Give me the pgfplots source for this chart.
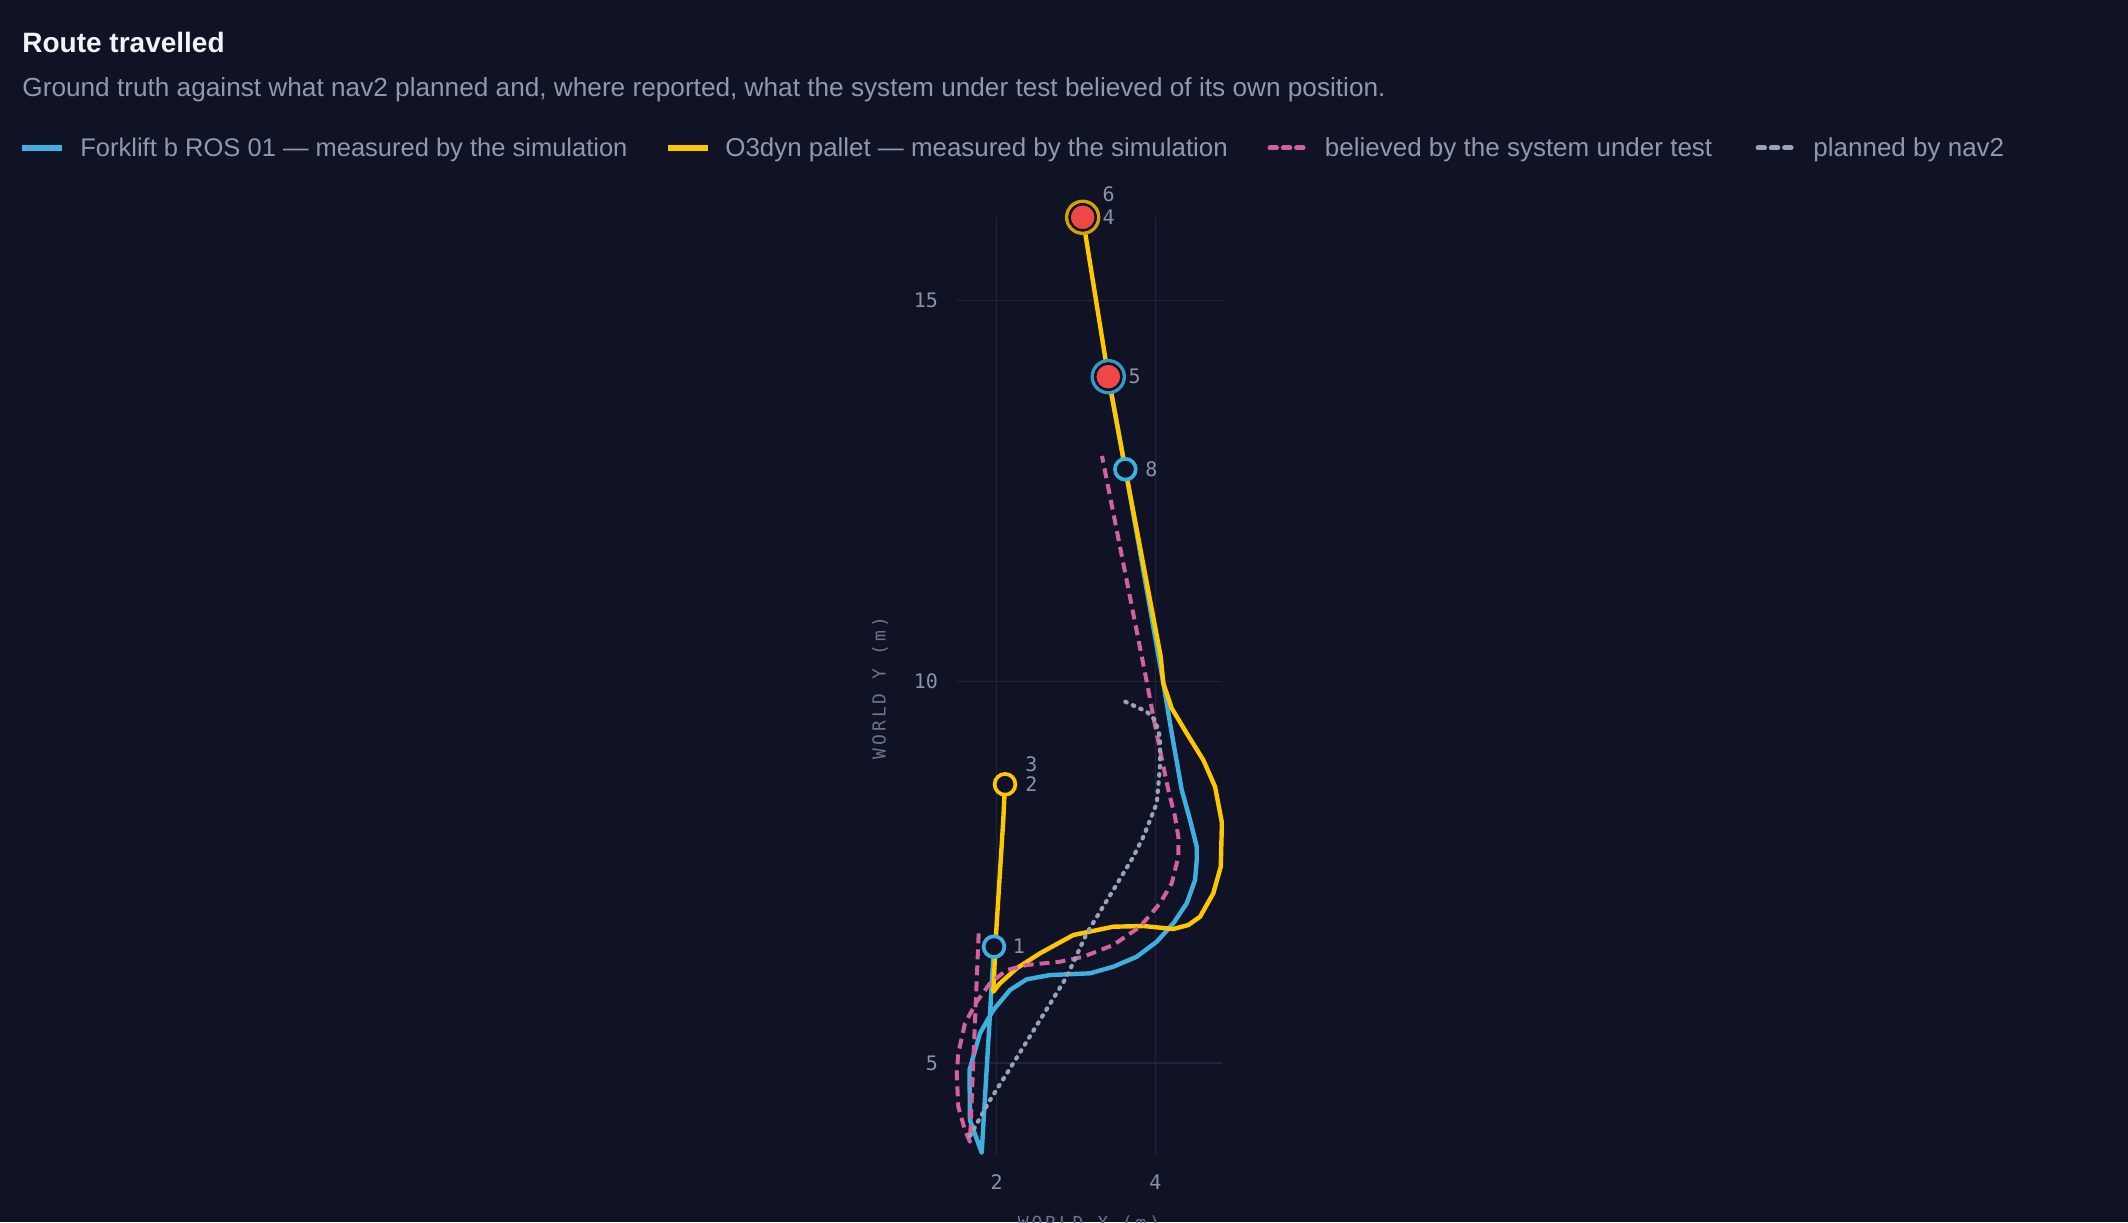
\documentclass[border=0pt]{standalone}
\usepackage{pgfplots}
\pgfplotsset{compat=1.18}
\usepackage{fontspec}
\setmainfont{Liberation Sans}
\newfontfamily\monofont{DejaVu Sans Mono}
\newfontfamily\labelfont[LetterSpace=16]{DejaVu Sans Mono}
\definecolor{bg}{RGB}{15,19,37}
\definecolor{gridc}{RGB}{31,36,56}
\definecolor{tickc}{RGB}{138,146,166}
\definecolor{labelc}{RGB}{107,115,136}
\definecolor{titlec}{RGB}{241,243,247}
\definecolor{subc}{RGB}{144,152,172}
\definecolor{fork}{RGB}{62,176,223}
\definecolor{yel}{RGB}{255,199,0}
\definecolor{pinkc}{RGB}{211,97,159}
\definecolor{grayl}{RGB}{154,163,182}
\definecolor{redc}{RGB}{239,70,70}

\begin{document}
\begin{tikzpicture}[x=0.5pt,y=0.5pt]
\useasboundingbox (0,0) rectangle (2128,1222);
\fill[bg] (0,0) rectangle (2128,1222);
\coordinate (axsw) at (956.7,64.7);

% title, subtitle
\node[anchor=base west,inner sep=0,text=titlec] at (22,1169) {\fontsize{14}{16}\selectfont\bfseries Route travelled};
\node[anchor=base west,inner sep=0,text=subc] at (22,1125.3) {\fontsize{13.1}{15}\selectfont Ground truth against what nav2 planned and, where reported, what the system under test believed of its own position.};

% legend
\draw[fork,line width=2.6pt] (22,1074) -- (62,1074);
\node[anchor=base west,inner sep=0,text=subc] at (80,1065.3) {\fontsize{12.75}{15}\selectfont Forklift b ROS 01 — measured by the simulation};
\draw[yel,line width=2.6pt] (668,1074) -- (708,1074);
\node[anchor=base west,inner sep=0,text=subc] at (725,1065.3) {\fontsize{12.95}{15}\selectfont O3dyn pallet — measured by the simulation};
\foreach \s in {0,13.3,26.6}{\draw[pinkc,line width=2.5pt,line cap=round] (1270+\s,1074) -- (1276.5+\s,1074);}
\node[anchor=base west,inner sep=0,text=subc] at (1324.5,1065.3) {\fontsize{13}{15}\selectfont believed by the system under test};
\foreach \s in {0,13.3,26.6}{\draw[grayl,line width=2.5pt,line cap=round] (1758+\s,1074) -- (1764.5+\s,1074);}
\node[anchor=base west,inner sep=0,text=subc] at (1813,1065.3) {\fontsize{13}{15}\selectfont planned by nav2};

% axis labels
\node[rotate=90,anchor=center,inner sep=0,text=labelc] at (880,534) {\labelfont\fontsize{9}{10}\selectfont WORLD Y (m)};
\node[anchor=north,inner sep=0,text=labelc] at (1089,6.5) {\labelfont\fontsize{9}{10}\selectfont WORLD X (m)};

\begin{axis}[
  at={(axsw)}, anchor=south west,
  scale only axis, width=132.5pt, height=470pt,
  xmin=1.496, xmax=4.837, ymin=3.763, ymax=16.09,
  axis line style={draw=none}, tick style={draw=none},
  xtick={2,4}, ytick={5,10,15},
  xticklabels={2,4}, yticklabels={5,10,15},
  grid=major, grid style={draw=gridc,line width=0.8pt},
  tick label style={font=\monofont\fontsize{10}{11}\selectfont, text=tickc, inner sep=0pt},
  xticklabel style={anchor=north, yshift=-8.5pt},
  yticklabel style={anchor=east, xshift=-9.2pt},
  clip=false,
]
% Forklift (measured)
\addplot[fork, line width=2.2pt, line join=round] coordinates {
(1.966,6.525) (1.811,3.823) (1.663,4.250) (1.657,4.907) (1.789,5.389) (1.957,5.694)
(2.168,5.957) (2.378,6.097) (2.672,6.153) (3.177,6.176) (3.470,6.262) (3.765,6.393)
(4.018,6.590) (4.227,6.831) (4.396,7.094) (4.501,7.399) (4.522,7.662) (4.522,7.836)
(4.438,8.186) (4.333,8.580) (4.207,9.323) (4.101,9.979) (3.622,12.786) (3.407,14.0)
};
% Pallet (measured)
\addplot[yel, line width=2.2pt, line join=round] coordinates {
(2.105,8.654) (2.083,8.186) (1.991,6.678) (1.957,5.934) (2.042,6.045) (2.252,6.241)
(2.546,6.438) (2.966,6.678) (3.470,6.787) (3.849,6.796) (4.227,6.757) (4.416,6.809)
(4.564,6.918) (4.731,7.225) (4.825,7.574) (4.837,8.055) (4.837,8.164) (4.753,8.623)
(4.605,8.973) (4.396,9.323) (4.207,9.651) (4.101,9.979) (4.068,10.328) (3.622,12.786)
(3.407,14.0) (3.084,16.09)
};
% believed
\addplot[pinkc, line width=2pt, line join=round, dash pattern=on 5pt off 3pt] coordinates {
(1.773,6.700) (1.663,3.967) (1.600,4.121) (1.516,4.426) (1.496,4.864) (1.516,5.127)
(1.600,5.520) (1.748,5.803) (1.916,6.045) (2.126,6.219) (2.378,6.285) (2.798,6.328)
(3.092,6.393) (3.470,6.547) (3.807,6.787) (4.059,7.094) (4.207,7.356) (4.290,7.705)
(4.290,7.967) (4.248,8.230) (4.164,8.580) (4.059,9.104) (3.975,9.541) (3.892,10.0)
(3.328,12.960)
};
% planned
\addplot[grayl, line width=2.1pt, line join=round, line cap=round, dash pattern=on 0.8pt off 3.3pt] coordinates {
(1.663,4.042) (1.916,4.514) (2.209,4.996) (2.546,5.563) (2.883,6.131) (3.135,6.700)
(3.470,7.268) (3.723,7.705) (3.849,7.967) (4.018,8.405) (4.059,8.885) (4.059,9.279)
(3.996,9.498) (3.892,9.607) (3.555,9.769)
};
% event markers: rings with red fill
\addplot[only marks, mark=*, mark size=8pt, mark options={draw=yel!80!bg, fill=none, line width=1.7pt}] coordinates {(3.084,16.09)};
\addplot[only marks, mark=*, mark size=8pt, mark options={draw=fork!85!bg, fill=none, line width=1.7pt}] coordinates {(3.407,14.0)};
\addplot[only marks, mark=*, mark size=6.5pt, mark options={draw=bg, fill=redc, line width=1.1pt}] coordinates {(3.084,16.09) (3.407,14.0)};
% open markers
\addplot[only marks, mark=*, mark size=5.2pt, mark options={draw=fork, fill=bg, line width=1.85pt}] coordinates {(1.966,6.525) (3.622,12.786)};
\addplot[only marks, mark=*, mark size=5.2pt, mark options={draw=yel, fill=bg, line width=1.85pt}] coordinates {(2.105,8.654)};
% marker labels
\begin{scope}[every node/.style={anchor=west, inner sep=0, text=tickc, font=\monofont\fontsize{10}{11}\selectfont}]
\node at (axis cs:3.084,16.09) [xshift=9.75pt] {4};
\node at (axis cs:3.084,16.09) [xshift=9.75pt, yshift=11.3pt] {6};
\node at (axis cs:3.407,14.0) [xshift=10pt] {5};
\node at (axis cs:3.622,12.786) [xshift=9.85pt] {8};
\node at (axis cs:2.105,8.654) [xshift=10pt] {2};
\node at (axis cs:2.105,8.654) [xshift=10pt, yshift=10pt] {3};
\node at (axis cs:1.966,6.525) [xshift=9.2pt] {1};
\end{scope}
\end{axis}
\end{tikzpicture}
\end{document}
